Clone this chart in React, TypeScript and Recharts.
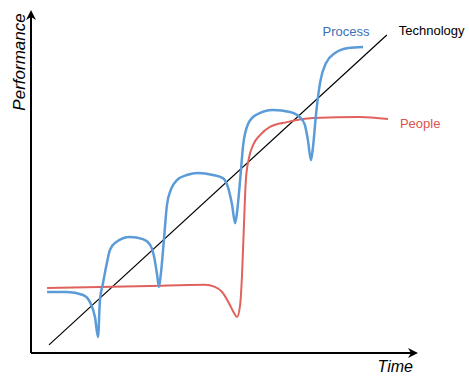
import { LineChart, Line, XAxis, YAxis, Label, LabelList } from "recharts";

// Time / performance on a 0-100 scale
const processTime = [
  4.2, 9.4, 13.6, 15.4, 16.7, 17.5, 18.0, 18.8, 19.8, 20.6, 22.2, 25.8, 29.2, 31.1, 32.1, 32.9, 33.4,
  33.9, 34.7, 35.5, 36.6, 38.1, 40.7, 43.6, 47.5, 50.1, 51.4, 52.5, 53.3, 53.8, 54.6, 55.4, 56.7,
  58.7, 63.2, 67.6, 70.2, 71.5, 72.3, 73.1, 73.6, 74.4, 75.5, 77.0, 79.4, 82.8, 86.7,
];
const processPerf = [
  18.0, 18.0, 17.1, 15.0, 10.6, 4.7, 15.6, 20.6, 26.5, 30.4, 32.7, 34.2, 33.6, 31.9, 28.6, 23.3, 19.5,
  23.3, 33.3, 43.7, 48.4, 51.0, 52.5, 53.1, 52.5, 51.6, 49.0, 43.7, 38.3, 41.6, 51.0, 61.4, 67.6,
  70.2, 71.7, 71.1, 69.6, 67.3, 62.8, 56.9, 60.5, 70.2, 79.9, 85.5, 88.5, 90.0, 90.3,
];

const peopleTime = [
  4.2, 18.0, 31.1, 45.4, 48.0, 49.9, 51.7, 53.0, 53.8, 54.6, 55.1, 55.6, 56.1, 56.9, 58.0, 59.8,
  62.4, 66.8, 73.6, 85.9, 93.2,
];
const peoplePerf = [
  19.2, 19.5, 19.8, 20.1, 19.5, 18.0, 14.7, 11.8, 10.6, 14.2, 23.0, 37.8, 51.0, 57.5, 61.4, 64.3,
  66.7, 68.1, 69.3, 69.6, 69.0,
];

const techTime = [4.7, 92.9];
const techPerf = [2.4, 93.8];

const toRows = (t: number[], p: number[]) => t.map((x, i) => ({ t: x, v: p[i] }));

const processData = toRows(processTime, processPerf);
const peopleData = toRows(peopleTime, peoplePerf);
const techData = toRows(techTime, techPerf);

const FONT = "'Liberation Sans', Arial, Helvetica, sans-serif";

function endLabel(text: string, color: string, last: number, dx: number, dy: number, anchor: string) {
  return (props: any) => {
    if (props.index !== last) return null;
    return (
      <text
        x={Number(props.x) + dx}
        y={Number(props.y) + dy}
        fill={color}
        fontSize={13}
        fontFamily={FONT}
        textAnchor={anchor}
        dominantBaseline="central"
      >
        {text}
      </text>
    );
  };
}

export default function App() {
  return (
    <div style={{ position: "absolute", left: 0, top: 0, background: "#fff" }}>
      <LineChart width={469} height={379} margin={{ top: 14, right: 55, left: 0, bottom: 0 }}>
        <defs>
          <marker
            id="arrow"
            viewBox="0 0 10 10"
            refX={6}
            refY={5}
            markerWidth={10}
            markerHeight={10}
            markerUnits="userSpaceOnUse"
            orient="auto-start-reverse"
          >
            <path d="M0,0 L10,5 L0,10 L3,5 z" fill="#000" />
          </marker>
        </defs>
        <XAxis
          type="number"
          dataKey="t"
          domain={[0, 100]}
          height={26}
          tick={false}
          tickLine={false}
          axisLine={{ stroke: "#000", strokeWidth: 2, markerEnd: "url(#arrow)" }}
        >
          <Label
            content={(p: any) => (
              <text
                x={p.viewBox.x + p.viewBox.width - 1}
                y={p.viewBox.y + 19}
                fontSize={16}
                fontStyle="italic"
                fontFamily={FONT}
                textAnchor="end"
                fill="#000"
              >
                Time
              </text>
            )}
          />
        </XAxis>
        <YAxis
          type="number"
          domain={[0, 100]}
          width={31}
          tick={false}
          tickLine={false}
          axisLine={{ stroke: "#000", strokeWidth: 2, markerStart: "url(#arrow)" }}
        >
          <Label
            content={() => (
              <text
                x={25}
                y={62}
                transform="rotate(-90 25 62)"
                fontSize={17}
                fontStyle="italic"
                fontFamily={FONT}
                textAnchor="middle"
                fill="#000"
              >
                Performance
              </text>
            )}
          />
        </YAxis>
        <Line
          data={techData}
          dataKey="v"
          type="linear"
          stroke="#000"
          strokeWidth={1.2}
          dot={false}
          isAnimationActive={false}
        >
          <LabelList content={endLabel("Technology", "#000", techData.length - 1, 12, -5, "start")} />
        </Line>
        <Line
          data={peopleData}
          dataKey="v"
          type="monotone"
          stroke="#e0625c"
          strokeWidth={2}
          dot={false}
          isAnimationActive={false}
        >
          <LabelList content={endLabel("People", "#d9544f", peopleData.length - 1, 12, 4, "start")} />
        </Line>
        <Line
          data={processData}
          dataKey="v"
          type="monotone"
          stroke="#5b9bd8"
          strokeWidth={2.5}
          dot={false}
          isAnimationActive={false}
        >
          <LabelList content={endLabel("Process", "#3d6fb6", processData.length - 1, -17, -15, "middle")} />
        </Line>
      </LineChart>
    </div>
  );
}
